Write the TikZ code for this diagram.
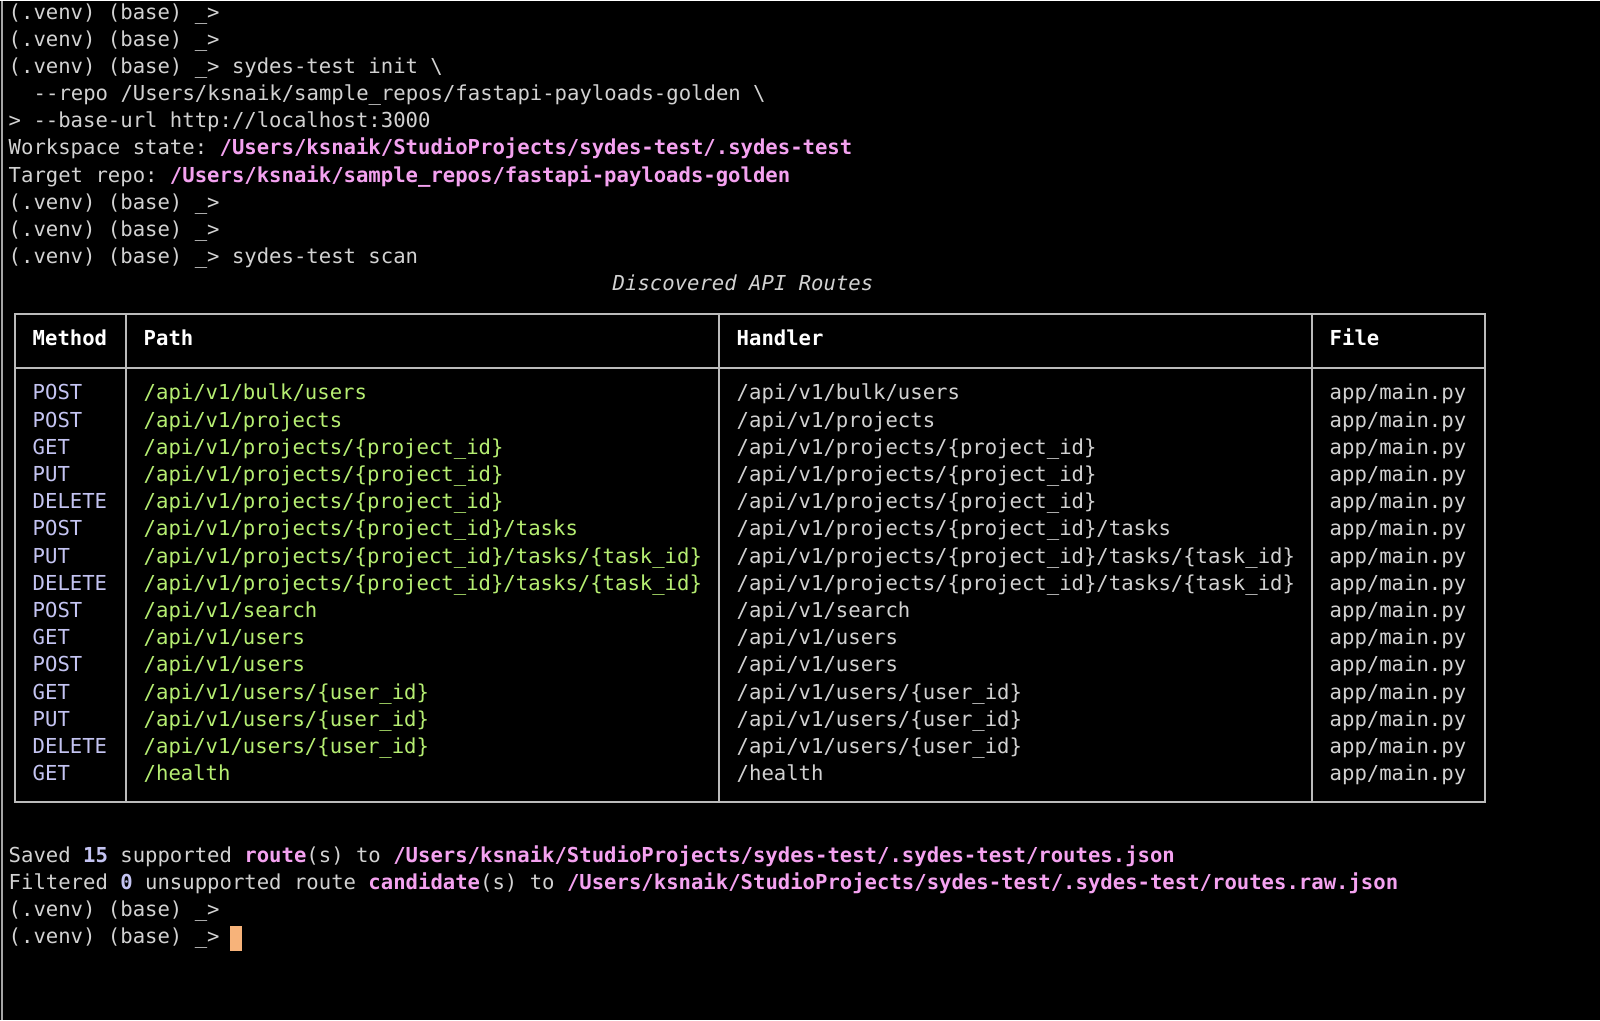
\documentclass[tikz,border=0pt]{standalone}
\usepackage{fontspec}
\setmonofont{DejaVu Sans Mono}
\usetikzlibrary{positioning}

\definecolor{txtgray}{HTML}{D2D2D2}
\definecolor{methodc}{HTML}{C4C4F2}
\definecolor{pathc}{HTML}{B6EE72}
\definecolor{magc}{HTML}{F4A2F0}
\definecolor{rulec}{HTML}{BBBBBB}
\definecolor{cursorc}{HTML}{F7B37A}

\newcommand{\prm}{(.venv) (base) \_>}
\newcommand{\hl}[1]{\textcolor{magc}{\bfseries #1}}
\newcommand{\pj}{/api/v1/projects/\{project\_id\}}
\newcommand{\us}{/api/v1/users/\{user\_id\}}

\tikzset{
  term/.style={anchor=base west, inner sep=0pt, text=txtgray, font=\ttfamily\fontsize{5.86pt}{7pt}\selectfont},
  rule/.style={rulec, line width=0.6pt}
}

% one table row: row number, method, path
\newcommand{\route}[3]{%
  \node[term, text=methodc] (m#1) at (32,{393+6+(#1-1)*27.2}) {#2};
  \node[term, text=pathc] (p#1) at (143,{393+6+(#1-1)*27.2}) {#3};
  \node[term] (h#1) at (736,{393+6+(#1-1)*27.2}) {#3};
  \node[term] (f#1) at (1329,{393+6+(#1-1)*27.2}) {app/main.py};
}

\begin{document}
\begin{tikzpicture}[x=0.01cm, y=-0.01cm]

\fill[black] (0,0) rectangle (1600,1019);
\draw[gray!70, line width=0.5pt] (2,0) -- (2,1019);

% shell lines before the scan
\node[term] (l1) at (8,19) {\prm};
\node[term] (l2) at (8,46) {\prm};
\node[term] (l3) at (8,73) {\prm{} sydes-test init \textbackslash};
\node[term] (l4) at (33,100) {--repo /Users/ksnaik/sample\_repos/fastapi-payloads-golden \textbackslash};
\node[term] (l5) at (8,127) {> --base-url http://localhost:3000};
\node[term] (l6) at (8,154) {Workspace state: \hl{/Users/ksnaik/StudioProjects/sydes-test/.sydes-test}};
\node[term] (l7) at (8,182) {Target repo: \hl{/Users/ksnaik/sample\_repos/fastapi-payloads-golden}};
\node[term] (l8) at (8,209) {\prm};
\node[term] (l9) at (8,236) {\prm};
\node[term] (l10) at (8,263) {\prm{} sydes-test scan};
\node[term, anchor=base, font=\ttfamily\itshape\fontsize{5.86pt}{7pt}\selectfont] (title) at (743,290) {Discovered API Routes};

% table frame
\draw[rule] (15,313) rectangle (1485,801);
\draw[rule] (15,367) -- (1485,367);
\foreach \x in {126,719,1312}
  \draw[rule] (\x,313) -- (\x,801);

\node[term, text=white, font=\ttfamily\bfseries\fontsize{5.86pt}{7pt}\selectfont] (hm) at (32,345) {Method};
\node[term, text=white, font=\ttfamily\bfseries\fontsize{5.86pt}{7pt}\selectfont] (hp) at (143,345) {Path};
\node[term, text=white, font=\ttfamily\bfseries\fontsize{5.86pt}{7pt}\selectfont] (hh) at (736,345) {Handler};
\node[term, text=white, font=\ttfamily\bfseries\fontsize{5.86pt}{7pt}\selectfont] (hf) at (1329,345) {File};

\route{1}{POST}{/api/v1/bulk/users}
\route{2}{POST}{/api/v1/projects}
\route{3}{GET}{\pj}
\route{4}{PUT}{\pj}
\route{5}{DELETE}{\pj}
\route{6}{POST}{\pj/tasks}
\route{7}{PUT}{\pj/tasks/\{task\_id\}}
\route{8}{DELETE}{\pj/tasks/\{task\_id\}}
\route{9}{POST}{/api/v1/search}
\route{10}{GET}{/api/v1/users}
\route{11}{POST}{/api/v1/users}
\route{12}{GET}{\us}
\route{13}{PUT}{\us}
\route{14}{DELETE}{\us}
\route{15}{GET}{/health}

% summary
\node[term] (s1) at (8,862) {Saved \textcolor{methodc}{\bfseries 15} supported \hl{route}(s) to \hl{/Users/ksnaik/StudioProjects/sydes-test/.sydes-test/routes.json}};
\node[term] (s2) at (8,889) {Filtered \textcolor{methodc}{\bfseries 0} unsupported route \hl{candidate}(s) to \hl{/Users/ksnaik/StudioProjects/sydes-test/.sydes-test/routes.raw.json}};
\node[term] (s3) at (8,916) {\prm};
\node[term] (s4) at (8,943) {\prm};
\fill[cursorc] (230,925) rectangle (242,950);

\end{tikzpicture}
\end{document}
